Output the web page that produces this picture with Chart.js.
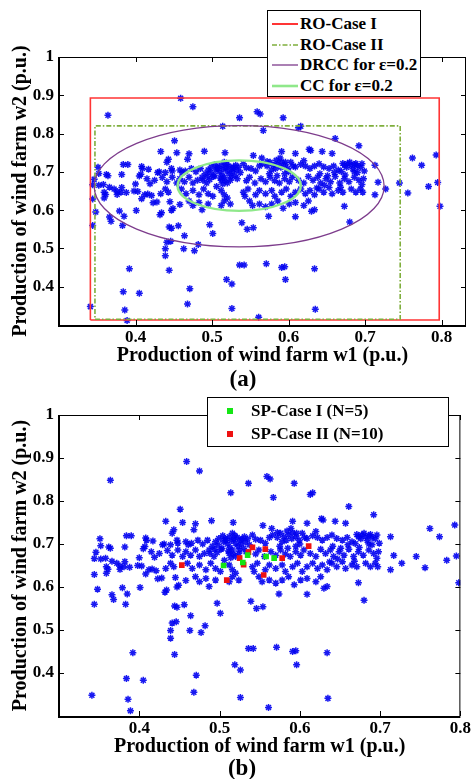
<!DOCTYPE html>
<html>
<head>
<meta charset="utf-8">
<script src="https://cdn.jsdelivr.net/npm/chart.js@4.4.1/dist/chart.umd.min.js"></script>
<style>
  html, body { margin: 0; padding: 0; background: #fff; }
  body {
    width: 473px; height: 779px; position: relative; overflow: hidden;
    font-family: "Liberation Serif", "Times New Roman", serif; font-weight: bold; color: #000;
  }
  .panel { position: absolute; left: 0; }
  #boxA { top: 0; }
  #boxB { top: 380px; }
  .tag { position: absolute; font-size: 23px; line-height: 1; transform: translate(-50%, -50%); }
  .legend { position: absolute; background: #fff; border: 1.5px solid #000; box-sizing: border-box; }
  .legend .row { position: absolute; left: 0; height: 20px; display: flex; align-items: center; font-size: 17px; white-space: nowrap; }
  .legend svg { display: block; }
</style>
</head>
<body>

<div class="panel" id="boxA"><canvas id="chartA" width="473" height="372"></canvas></div>
<div class="panel" id="boxB"><canvas id="chartB" width="473" height="390"></canvas></div>

<div class="tag" style="left:243px; top:378px;">(a)</div>
<div class="tag" style="left:242px; top:767px;">(b)</div>

<!-- legend (a) -->
<div class="legend" style="left:267px; top:10px; width:154px; height:87px;">
  <div class="row" style="top:3px;">
    <svg width="31" height="6"><line x1="4" y1="3" x2="30" y2="3" stroke="#ff3535" stroke-width="2"/></svg>
    <span style="margin-left:1px">RO-Case I</span>
  </div>
  <div class="row" style="top:24px;">
    <svg width="31" height="6"><line x1="4" y1="3" x2="30" y2="3" stroke="#7fae3c" stroke-width="1.6" stroke-dasharray="5,2,1.5,2"/></svg>
    <span style="margin-left:1px">RO-Case II</span>
  </div>
  <div class="row" style="top:44px;">
    <svg width="31" height="6"><line x1="4" y1="3" x2="30" y2="3" stroke="#7d3c8c" stroke-width="1.3"/></svg>
    <span style="margin-left:1px">DRCC for ε=0.2</span>
  </div>
  <div class="row" style="top:65px;">
    <svg width="31" height="6"><line x1="4" y1="3" x2="30" y2="3" stroke="#8fe88a" stroke-width="2.6"/></svg>
    <span style="margin-left:1px">CC for ε=0.2</span>
  </div>
</div>

<!-- legend (b) -->
<div class="legend" style="left:207px; top:397px; width:242px; height:50px;">
  <div class="row" style="top:3px;">
    <svg width="43" height="8"><rect x="19" y="1" width="6" height="6" fill="#14e614"/></svg>
    <span>SP-Case I (N=5)</span>
  </div>
  <div class="row" style="top:26px;">
    <svg width="43" height="8"><rect x="19" y="1" width="6" height="6" fill="#ee1111"/></svg>
    <span>SP-Case II (N=10)</span>
  </div>
</div>

<script>
// ── Scenario samples: production of wind farm w1 (x) and w2 (y), p.u. ──
const w1 = [
  // upper outliers
  0.459,0.475,0.364,0.536,0.559,0.563,0.593,0.514,0.567,0.613,0.616,0.451,0.661,
  // 0.73 - 0.77
  0.433,0.454,0.441,0.443,0.470,0.468,0.490,0.517,0.554,0.565,0.591,0.609,0.627,0.629,0.644,0.657,0.589,0.620,0.692,
  // 0.69 - 0.73
  0.351,0.352,0.362,0.384,0.390,0.382,0.408,0.409,0.417,0.405,0.407,0.429,0.431,0.439,0.447,0.448,0.458,
  0.461,0.465,0.473,0.479,0.485,0.491,0.495,0.499,0.504,0.508,0.512,0.516,0.518,0.522,0.526,0.531,0.535,
  0.541,0.545,0.551,0.557,0.562,0.566,0.572,0.576,0.580,0.583,0.586,0.591,0.595,0.599,0.603,0.609,0.616,
  0.622,0.628,0.634,0.640,0.646,0.653,0.659,0.665,0.673,0.677,0.682,0.686,0.690,0.696,0.669,0.690,
  // 0.66 - 0.69
  0.346,0.344,0.352,0.358,0.366,0.364,0.372,0.376,0.382,0.400,0.419,0.415,0.425,0.435,0.441,0.448,0.454,
  0.458,0.464,0.470,0.475,0.481,0.487,0.493,0.497,0.502,0.512,0.516,0.520,0.524,0.533,0.545,0.549,0.556,
  0.564,0.570,0.576,0.582,0.588,0.595,0.601,0.605,0.613,0.620,0.626,0.632,0.638,0.642,0.649,0.655,0.661,
  0.667,0.673,0.679,0.686,0.692,0.696,0.698,0.717,
  // 0.63 - 0.66
  0.344,0.359,0.359,0.361,0.376,0.381,0.388,0.398,0.403,0.408,0.412,0.416,0.421,0.433,0.439,0.443,0.460,
  0.466,0.475,0.483,0.489,0.495,0.501,0.512,0.516,0.520,0.541,0.543,0.547,0.557,0.562,0.570,0.578,0.582,
  0.591,0.597,0.603,0.609,0.616,0.622,0.628,0.634,0.640,0.646,0.653,0.657,0.665,0.671,0.682,0.688,0.694,
  0.697,0.713,0.727,
  // 0.60 - 0.63
  0.379,0.385,0.401,0.423,0.428,0.445,0.447,0.449,0.458,0.470,0.475,0.483,0.487,0.495,0.512,0.516,
  0.524,0.549,0.553,0.562,0.570,0.578,0.586,0.593,0.601,0.609,0.620,0.626,0.630,0.634,0.673,
  // 0.55 - 0.60
  0.348,0.344,0.366,0.368,0.383,0.432,0.434,0.444,0.447,0.456,0.497,0.539,0.546,0.554,0.574,0.609,0.680,
  // 0.48 - 0.55
  0.464,0.446,0.441,0.439,0.463,0.439,0.477,0.482,0.501,
  // lower outliers
  0.444,0.392,0.384,0.405,0.341,0.386,0.389,0.471,0.468,0.536,0.542,0.571,0.591,0.595,0.634,0.519,0.526,
  0.596,0.526,0.561,0.635,
  // right outliers
  0.762,0.774,0.793,0.745,0.756,0.783,0.795,0.798,0.713,
  // extra points in the dense core
  0.505,0.510,0.515,0.520,0.523,0.513,0.507,0.519,0.527,0.530,0.498,0.503,0.511,0.517,0.525,0.532,0.537,
  0.494,0.488,0.506,0.514,0.528,0.572,0.578,0.584,0.590,0.596,0.600,0.606,0.575,0.585,0.595,
  0.676,0.680,0.684,0.688,0.671,0.694,0.699,0.686,0.641,0.651,0.660,0.647,0.637,0.668,0.674
];
const w2 = [
  0.892,0.870,0.848,0.841,0.857,0.851,0.841,0.819,0.808,0.815,0.819,0.781,0.787,
  0.753,0.750,0.725,0.733,0.747,0.733,0.754,0.750,0.743,0.736,0.753,0.748,0.759,0.756,0.753,0.748,0.736,0.729,0.768,
  0.712,0.696,0.693,0.719,0.719,0.693,0.714,0.709,0.707,0.689,0.694,0.698,0.700,0.698,0.709,0.702,0.705,
  0.698,0.702,0.709,0.700,0.709,0.695,0.705,0.713,0.719,0.709,0.717,0.725,0.711,0.715,0.709,0.717,0.712,
  0.721,0.711,0.709,0.702,0.715,0.721,0.715,0.725,0.717,0.709,0.721,0.726,0.717,0.709,0.725,0.713,0.719,
  0.715,0.709,0.715,0.721,0.713,0.709,0.715,0.705,0.717,0.721,0.717,0.719,0.715,0.721,0.701,0.698,
  0.681,0.666,0.665,0.667,0.660,0.690,0.655,0.649,0.659,0.668,0.669,0.682,0.678,0.685,0.674,0.686,0.671,
  0.682,0.674,0.686,0.671,0.678,0.686,0.671,0.680,0.688,0.678,0.686,0.671,0.678,0.682,0.677,0.686,0.671,
  0.682,0.674,0.686,0.677,0.671,0.682,0.674,0.686,0.678,0.671,0.688,0.678,0.686,0.671,0.682,0.674,0.688,
  0.671,0.682,0.674,0.686,0.678,0.667,0.682,0.673,
  0.629,0.632,0.647,0.641,0.641,0.647,0.646,0.650,0.649,0.630,0.640,0.642,0.638,0.643,0.655,0.647,0.655,
  0.643,0.651,0.640,0.655,0.643,0.636,0.651,0.640,0.632,0.647,0.636,0.655,0.640,0.651,0.643,0.651,0.636,
  0.647,0.655,0.636,0.647,0.655,0.643,0.651,0.640,0.655,0.647,0.659,0.643,0.651,0.647,0.655,0.647,0.655,
  0.647,0.640,0.655,
  0.598,0.584,0.599,0.619,0.621,0.622,0.600,0.604,0.615,0.624,0.612,0.620,0.601,0.616,0.612,0.624,
  0.616,0.624,0.612,0.616,0.609,0.616,0.624,0.605,0.616,0.620,0.612,0.624,0.597,0.601,0.610,
  0.595,0.560,0.582,0.571,0.560,0.588,0.593,0.556,0.553,0.559,0.562,0.567,0.550,0.554,0.584,0.583,0.569,
  0.533,0.519,0.516,0.499,0.499,0.481,0.494,0.510,0.539,
  0.443,0.447,0.387,0.383,0.348,0.339,0.312,0.395,0.355,0.457,0.457,0.460,0.450,0.452,0.447,0.419,0.407,
  0.419,0.343,0.320,0.341,
  0.736,0.717,0.744,0.671,0.645,0.662,0.672,0.610,0.717,
  0.705,0.700,0.708,0.702,0.695,0.692,0.712,0.720,0.700,0.690,0.698,0.690,0.684,0.677,0.686,0.705,0.698,
  0.688,0.678,0.662,0.668,0.712,0.727,0.705,0.730,0.712,0.725,0.700,0.715,0.695,0.690,0.695,
  0.712,0.725,0.708,0.722,0.722,0.712,0.702,0.700,0.695,0.690,0.698,0.665,0.658,0.660,0.692
];

// ── SP scenario reductions ──
const spCase1X = [0.505, 0.529, 0.535, 0.558, 0.568];
const spCase1Y = [0.650, 0.657, 0.674, 0.671, 0.667];
const spCase2X = [0.453, 0.509, 0.525, 0.530, 0.536, 0.541, 0.555, 0.557, 0.578, 0.611];
const spCase2Y = [0.651, 0.616, 0.667, 0.652, 0.681, 0.692, 0.628, 0.688, 0.667, 0.695];

// ── Uncertainty sets of panel (a) ──
const roCase1X = [0.341, 0.797, 0.797, 0.341, 0.341];
const roCase1Y = [0.313, 0.313, 0.893, 0.893, 0.313];
const roCase2X = [0.347, 0.746, 0.746, 0.347, 0.347];
const roCase2Y = [0.315, 0.315, 0.820, 0.820, 0.315];
const drccCenter = [0.5355, 0.6625];
const drccRadius = [0.1895, 0.1585];
const ccCenter = [0.5355, 0.664];
const ccRadius = [0.0805, 0.066];

// ── Axis ticks ──
const xTicks = [0.4, 0.5, 0.6, 0.7, 0.8];
const yTicks = [0.4, 0.5, 0.6, 0.7, 0.8, 0.9, 1];

const FONT = "'Liberation Serif', 'Times New Roman', serif";
const toPts = (xs, ys) => xs.map((v, i) => ({ x: v, y: ys[i] }));

// MATLAB-like box with inward ticks on all four sides
const framePlugin = {
  id: "frame",
  afterDraw(chart) {
    const { ctx, chartArea: a, scales: { x, y } } = chart;
    ctx.save();
    ctx.strokeStyle = "#000";
    ctx.lineWidth = 1;
    ctx.beginPath();
    ctx.moveTo(a.left, a.top + 0.5); ctx.lineTo(a.right, a.top + 0.5);
    ctx.moveTo(a.right - 0.5, a.top); ctx.lineTo(a.right - 0.5, a.bottom);
    x.ticks.forEach((t, i) => {
      const px = Math.round(x.getPixelForTick(i)) + 0.5;
      ctx.moveTo(px, a.bottom); ctx.lineTo(px, a.bottom - 5);
      ctx.moveTo(px, a.top); ctx.lineTo(px, a.top + 5);
    });
    y.ticks.forEach((t, i) => {
      const py = Math.round(y.getPixelForTick(i)) + 0.5;
      ctx.moveTo(a.left, py); ctx.lineTo(a.left + 5, py);
      ctx.moveTo(a.right, py); ctx.lineTo(a.right - 5, py);
    });
    ctx.stroke();
    ctx.lineWidth = 2;
    ctx.beginPath();
    ctx.moveTo(a.left, a.top); ctx.lineTo(a.left, a.bottom + 1); ctx.lineTo(a.right, a.bottom + 1);
    ctx.stroke();
    ctx.restore();
  },
};

// ellipses drawn in data space through the chart scales
const ellipsePlugin = {
  id: "ellipses",
  afterDatasetsDraw(chart, args, opts) {
    const { ctx, scales: { x, y } } = chart;
    (opts.items || []).forEach((e) => {
      const cx = x.getPixelForValue(e.center[0]);
      const cy = y.getPixelForValue(e.center[1]);
      const rx = Math.abs(x.getPixelForValue(e.center[0] + e.radius[0]) - cx);
      const ry = Math.abs(y.getPixelForValue(e.center[1] + e.radius[1]) - cy);
      ctx.save();
      ctx.beginPath();
      ctx.ellipse(cx, cy, rx, ry, 0, 0, Math.PI * 2);
      ctx.strokeStyle = e.color;
      ctx.lineWidth = e.width;
      ctx.stroke();
      ctx.restore();
    });
  },
};

function scales(xMax, xHeight, xTitlePad) {
  const tickFont = { family: FONT, size: 17, weight: "bold" };
  const titleFont = { family: FONT, size: 20, weight: "bold" };
  return {
    x: {
      type: "linear", min: 0.3, max: xMax,
      grid: { display: false, drawTicks: false }, border: { display: false },
      afterBuildTicks: (s) => { s.ticks = xTicks.map((v) => ({ value: v })); },
      afterFit: (s) => { s.height = xHeight; },
      ticks: { font: tickFont, color: "#000", padding: 2, maxRotation: 0, callback: (v) => String(v) },
      title: { display: true, text: "Production of wind farm w1 (p.u.)", font: titleFont, color: "#000", padding: { top: 0, bottom: xTitlePad } },
    },
    y: {
      type: "linear", min: 0.3, max: 1,
      grid: { display: false, drawTicks: false }, border: { display: false },
      afterBuildTicks: (s) => { s.ticks = yTicks.map((v) => ({ value: v })); },
      afterFit: (s) => { s.width = 59; },
      ticks: { font: tickFont, color: "#000", padding: 5, callback: (v) => String(v) },
      title: { display: true, text: "Production of wind farm w2 (p.u.)", font: titleFont, color: "#000", padding: { top: 9, bottom: 0 } },
    },
  };
}

const samples = {
  label: "Scenarios",
  data: toPts(w1, w2),
  pointStyle: "star",
  radius: 3.5,
  borderWidth: 1.5,
  borderColor: "rgba(0,0,240,0.9)",
  backgroundColor: "rgba(0,0,240,0.9)",
  order: 5,
};

new Chart(document.getElementById("chartA"), {
  type: "scatter",
  data: {
    datasets: [
      { ...samples },
      {
        label: "RO-Case I", data: toPts(roCase1X, roCase1Y), showLine: true,
        borderColor: "#ff3535", borderWidth: 1.6, pointRadius: 0, fill: false, order: 2,
      },
      {
        label: "RO-Case II", data: toPts(roCase2X, roCase2Y), showLine: true,
        borderColor: "#7fae3c", borderWidth: 1.6, borderDash: [5, 2, 1.5, 2], pointRadius: 0, fill: false, order: 1,
      },
    ],
  },
  options: {
    responsive: false, animation: false, events: [],
    layout: { padding: { top: 57, right: 7, left: 0, bottom: 0 } },
    plugins: {
      legend: { display: false }, tooltip: { enabled: false },
      ellipses: {
        items: [
          { center: drccCenter, radius: drccRadius, color: "#7d3c8c", width: 1.3 },
          { center: ccCenter, radius: ccRadius, color: "#8fe88a", width: 2.4 },
        ],
      },
    },
    scales: scales(0.832, 47, 4),
  },
  plugins: [ellipsePlugin, framePlugin],
});

new Chart(document.getElementById("chartB"), {
  type: "scatter",
  data: {
    datasets: [
      { ...samples },
      {
        label: "SP-Case I (N=5)", data: toPts(spCase1X, spCase1Y),
        pointStyle: "rect", radius: 4, borderWidth: 0, backgroundColor: "#14e614", order: 1,
      },
      {
        label: "SP-Case II (N=10)", data: toPts(spCase2X, spCase2Y),
        pointStyle: "rect", radius: 4, borderWidth: 0, backgroundColor: "#ee1111", order: 2,
      },
    ],
  },
  options: {
    responsive: false, animation: false, events: [],
    layout: { padding: { top: 35, right: 10, left: 0, bottom: 0 } },
    plugins: { legend: { display: false }, tooltip: { enabled: false } },
    scales: scales(0.8, 54, 11),
  },
  plugins: [framePlugin],
});
</script>
</body>
</html>
